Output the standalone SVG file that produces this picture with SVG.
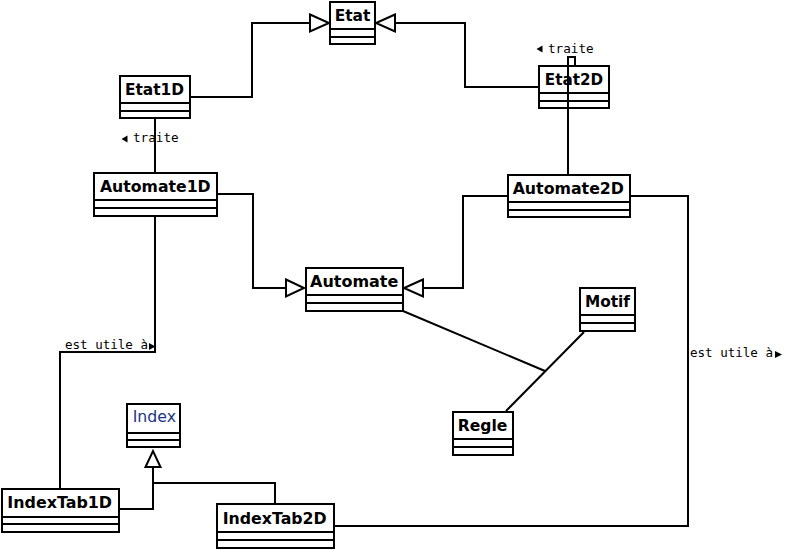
<svg xmlns="http://www.w3.org/2000/svg" width="787" height="550" viewBox="0 0 787 550">
<style>
.box{fill:#fff;stroke:#000;stroke-width:2}
.sep{stroke:#000;stroke-width:2}
.name{font-family:"DejaVu Sans",sans-serif;font-weight:bold;font-size:16.5px;fill:#000;text-anchor:middle}
.iname{font-family:"DejaVu Sans",sans-serif;font-size:15.5px;fill:#1b3584;text-anchor:middle}
.ln{fill:none;stroke:#000;stroke-width:2}
.gen{fill:#fff;stroke:#000;stroke-width:2}
.lbl{font-family:"DejaVu Sans Mono",monospace;font-size:13px;fill:#000}
.dir{fill:#000}
</style>
<rect width="787" height="550" fill="#fff"/>
<g id="Etat"><rect class="box" x="330" y="2" width="45" height="42"/><line class="sep" x1="330" y1="29" x2="375" y2="29"/><line class="sep" x1="330" y1="37" x2="375" y2="37"/><text class="name" x="352.5" y="21" textLength="35.7" lengthAdjust="spacingAndGlyphs">Etat</text></g>
<g id="Etat1D"><rect class="box" x="120" y="76" width="70" height="42"/><line class="sep" x1="120" y1="103" x2="190" y2="103"/><line class="sep" x1="120" y1="111" x2="190" y2="111"/><text class="name" x="154.5" y="95" textLength="59" lengthAdjust="spacingAndGlyphs">Etat1D</text></g>
<g id="Etat2D"><rect class="box" x="539" y="66" width="70" height="42"/><line class="sep" x1="539" y1="93" x2="609" y2="93"/><line class="sep" x1="539" y1="101" x2="609" y2="101"/><text class="name" x="574" y="85" textLength="58.3" lengthAdjust="spacingAndGlyphs">Etat2D</text></g>
<g id="Automate1D"><rect class="box" x="94" y="173" width="123" height="43"/><line class="sep" x1="94" y1="200" x2="217" y2="200"/><line class="sep" x1="94" y1="208" x2="217" y2="208"/><text class="name" x="155.3" y="192" textLength="110.7" lengthAdjust="spacingAndGlyphs">Automate1D</text></g>
<g id="Automate"><rect class="box" x="306" y="268" width="97" height="43"/><line class="sep" x1="306" y1="295" x2="403" y2="295"/><line class="sep" x1="306" y1="303" x2="403" y2="303"/><text class="name" x="354.2" y="287" textLength="88.3" lengthAdjust="spacingAndGlyphs">Automate</text></g>
<g id="Automate2D"><rect class="box" x="508" y="175" width="122" height="42"/><line class="sep" x1="508" y1="202" x2="630" y2="202"/><line class="sep" x1="508" y1="210" x2="630" y2="210"/><text class="name" x="568.3" y="194" textLength="111.3" lengthAdjust="spacingAndGlyphs">Automate2D</text></g>
<g id="Motif"><rect class="box" x="580" y="288" width="55" height="43"/><line class="sep" x1="580" y1="315" x2="635" y2="315"/><line class="sep" x1="580" y1="323" x2="635" y2="323"/><text class="name" x="607.5" y="307" textLength="45" lengthAdjust="spacingAndGlyphs">Motif</text></g>
<g id="Regle"><rect class="box" x="453" y="412" width="60" height="43"/><line class="sep" x1="453" y1="439" x2="513" y2="439"/><line class="sep" x1="453" y1="447" x2="513" y2="447"/><text class="name" x="482.5" y="431" textLength="49.7" lengthAdjust="spacingAndGlyphs">Regle</text></g>
<g id="Index"><rect class="box" x="127" y="404" width="53" height="43"/><line class="sep" x1="127" y1="433" x2="180" y2="433"/><line class="sep" x1="127" y1="440" x2="180" y2="440"/><text class="iname" x="154.3" y="422" textLength="43.3" lengthAdjust="spacingAndGlyphs">Index</text></g>
<g id="IndexTab1D"><rect class="box" x="2" y="489" width="117" height="43"/><line class="sep" x1="2" y1="517" x2="119" y2="517"/><line class="sep" x1="2" y1="524" x2="119" y2="524"/><text class="name" x="59.7" y="508" textLength="104.7" lengthAdjust="spacingAndGlyphs">IndexTab1D</text></g>
<g id="IndexTab2D"><rect class="box" x="217" y="504" width="117" height="44"/><line class="sep" x1="217" y1="532" x2="334" y2="532"/><line class="sep" x1="217" y1="540" x2="334" y2="540"/><text class="name" x="274.7" y="524" textLength="104" lengthAdjust="spacingAndGlyphs">IndexTab2D</text></g>
<g id="connectors">
<path class="ln" d="M191 97 H252 V23 H310"/><polygon class="gen" points="310,14.5 329,23 310,31.5"/>
<path class="ln" d="M538 87 H465 V23 H395"/><polygon class="gen" points="395,14.5 376,23 395,31.5"/>
<path class="ln" d="M218 194 H253 V288 H286"/><polygon class="gen" points="286,279.5 304,288 286,296.5"/>
<path class="ln" d="M507 196 H463 V288 H423"/><polygon class="gen" points="423,279.5 404,288 423,296.5"/>
<path class="ln" d="M155 119 V172"/>
<path class="ln" d="M575 65 V57 H568 V174"/>
<path class="ln" d="M155 217 V352 H60 V488"/>
<path class="ln" d="M631 196 H688 V526 H335"/>
<path class="ln" d="M120 509 H153 V467 M153 483 H275 V503"/><polygon class="gen" points="145.5,467 153,451 160.5,467"/>
<path class="ln" d="M403 311 L545 371 M584 332 L506 411"/>
<polygon class="dir" points="121.5,139 127.5,135.5 127.5,142.5"/><text class="lbl" x="133" y="142" textLength="45.6" lengthAdjust="spacingAndGlyphs">traite</text>
<polygon class="dir" points="536.5,49 542.5,45.5 542.5,52.5"/><text class="lbl" x="548" y="53" textLength="45.6" lengthAdjust="spacingAndGlyphs">traite</text>
<text class="lbl" x="65" y="349" textLength="83" lengthAdjust="spacingAndGlyphs">est utile à</text><polygon class="dir" points="149,343 149,350 155.5,346.5"/>
<text class="lbl" x="690" y="357" textLength="83" lengthAdjust="spacingAndGlyphs">est utile à</text><polygon class="dir" points="775,351 775,358 782,354.5"/>
</g>
</svg>
